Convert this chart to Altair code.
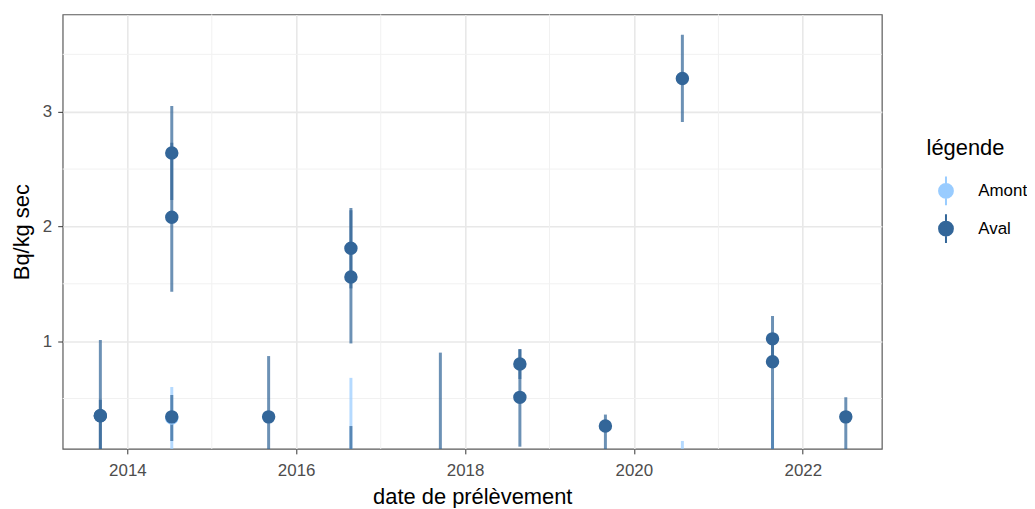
import altair as alt
import pandas as pd

# ---- data ----
dates = ["2014-07-12", "2016-08-25", "2020-07-29", "2021-08-23",
         "2013-09-06", "2013-09-06", "2014-07-12", "2014-07-12", "2014-07-12",
         "2015-09-04", "2016-08-25", "2016-08-25", "2016-08-25", "2017-09-16",
         "2018-08-26", "2018-08-26", "2019-08-31", "2020-07-29", "2021-08-23",
         "2021-08-23", "2022-07-06"]
sites = ["Amont"] * 4 + ["Aval"] * 17
valeurs = [0.33, None, None, None,
           0.35, 0.35, 0.34, 2.64, 2.08,
           0.34, 1.81, 1.56, None, None,
           0.80, 0.51, 0.26, 3.29, 1.02,
           0.82, 0.34]
bas = [0.0, 0.0, 0.0, 0.0,
       0.0, 0.0, 0.13, 2.23, 1.43,
       0.0, 1.46, 0.98, 0.0, 0.0,
       0.67, 0.08, 0.0, 2.91, 0.82,
       0.0, 0.0]
haut = [0.60, 0.68, 0.13, 0.40,
        1.01, 0.49, 0.53, 3.05, 2.73,
        0.87, 2.16, 2.14, 0.26, 0.90,
        0.93, 0.93, 0.36, 3.67, 1.22,
        1.05, 0.51]

site_order = ["Amont", "Aval"]
site_colors = ["#99ccff", "#336699"]

major_years = [2014, 2016, 2018, 2020, 2022]
minor_years = [2015, 2017, 2019, 2021]
y_major = [1, 2, 3]
y_minor = [0.5, 1.5, 2.5, 3.5]
y_domain = [0.061, 3.848]

df = pd.DataFrame({"date": dates, "site": sites, "valeur": valeurs,
                   "bas": bas, "haut": haut})
df_xminor = pd.DataFrame({"date": [f"{y}-01-01" for y in minor_years]})
df_yminor = pd.DataFrame({"y": y_minor})

FONT = "Liberation Sans"

scale_x = alt.Scale(type="utc", domain=[
    alt.DateTime(year=2013, month=3, date=27, utc=True),
    alt.DateTime(year=2022, month=12, date=9, utc=True)])
scale_y = alt.Scale(domain=y_domain, nice=False, zero=False)
col_scale = alt.Scale(domain=site_order, range=site_colors)
# bars: same colours, data-driven domain (alphabetical = Amont, Aval)
bar_scale = alt.Scale(range=site_colors)

x_axis = alt.Axis(values=[alt.DateTime(year=y, month=1, date=1, utc=True) for y in major_years],
                  format="%Y", formatType="utc", title="date de prélèvement",
                  labelFontSize=17, titleFontSize=22, labelPadding=9, titlePadding=8)
y_axis = alt.Axis(values=y_major, title="Bq/kg sec", labelFontSize=17, titleFontSize=22,
                  labelPadding=6, titlePadding=9)

grid_x = alt.Chart(df_xminor).mark_rule(color="#f1f1f1", strokeWidth=1).encode(
    x=alt.X("date:T", scale=scale_x, axis=x_axis))
grid_y = alt.Chart(df_yminor).mark_rule(color="#f1f1f1", strokeWidth=1).encode(
    y=alt.Y("y:Q", scale=scale_y, axis=y_axis))

bars = alt.Chart(df).mark_rule(strokeWidth=3, opacity=0.72, clip=True).encode(
    x=alt.X("date:T", scale=scale_x, axis=x_axis),
    y=alt.Y("bas:Q", scale=scale_y, axis=y_axis),
    y2="haut:Q",
    color=alt.Color("site:N", scale=bar_scale, legend=None),
)

legend_symbol = ("M0,-1L0,1M0.48,0A0.48,0.48 0 1,1 -0.48,0"
                 "A0.48,0.48 0 1,1 0.48,0Z")
leg = alt.Legend(title="légende", orient="none", legendX=869, legendY=124,
                 titleFontSize=22, titleFont=FONT, titleColor="#000000",
                 titleFontWeight="normal", labelFontSize=17, labelFont=FONT,
                 labelColor="#000000", symbolType=legend_symbol, symbolSize=841,
                 symbolStrokeWidth=2, titlePadding=16, rowPadding=1,
                 labelOffset=17, symbolOffset=4)

points = alt.Chart(df).mark_point(filled=True, shape="circle", size=133, strokeWidth=2,
                                  opacity=1, clip=True).encode(
    x=alt.X("date:T", scale=scale_x, axis=x_axis),
    y=alt.Y("valeur:Q", scale=scale_y, axis=y_axis),
    fill=alt.Fill("site:N", scale=col_scale, legend=leg),
    stroke=alt.Stroke("site:N", scale=col_scale, legend=leg),
)

chart = alt.layer(grid_x, grid_y, bars, points).properties(
    width=824, height=437,
    autosize=alt.AutoSizeParams(type="none"),
    padding={"left": 55, "top": 5, "right": 146, "bottom": 58},
    background="white",
).configure_view(
    stroke="#5a5a5a", strokeWidth=1.2
).configure_axis(
    labelFont=FONT, titleFont=FONT, labelColor="#4d4d4d", titleColor="#000000",
    titleFontWeight="normal", domain=False, tickColor="#333333", tickSize=5,
    tickWidth=1, gridColor="#e8e8e8", gridWidth=1.6,
)

chart.save("out.html", embed_options={"renderer": "svg", "actions": False})
